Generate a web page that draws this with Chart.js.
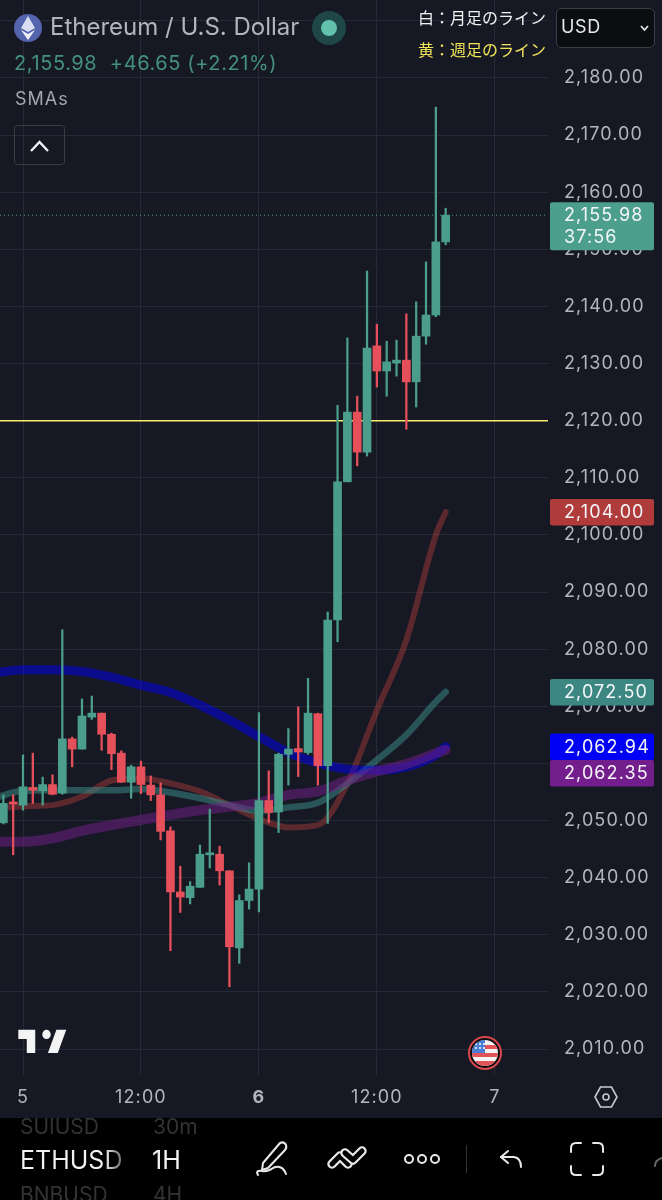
<!DOCTYPE html>
<html>
<head>
<meta charset="utf-8">
<title>ETHUSD 1H</title>
<script src="https://cdn.jsdelivr.net/npm/chart.js@4"></script>
<style>
  html, body { margin: 0; padding: 0; background: #000; }
  #page { position: relative; width: 662px; height: 1200px; overflow: hidden; background: #000; font-family: Inter, "Noto Sans CJK JP", sans-serif; }
  #pane { position: absolute; left: 0; top: 0; width: 662px; height: 1118px; background: #161924; }
  #pane canvas { display: block; }
  .txt { position: absolute; white-space: nowrap; line-height: 1; }
  #overlay { position: absolute; left: 0; top: 0; }
</style>
</head>
<body>
<div id="page">
  <div id="pane"><canvas id="chart" width="662" height="1118"></canvas></div>

  <svg id="overlay" width="662" height="1200" viewBox="0 0 662 1200">
    <!-- eth icon -->
    <circle cx="28" cy="28" r="14" fill="#5565ad"/>
    <path d="M28 16 L35 28 L28 32 L21 28 Z" fill="#d9def2"/>
    <path d="M28 34 L35 30 L28 40 L21 30 Z" fill="#eef0fa"/>
    <!-- market status dot -->
    <circle cx="329" cy="28" r="17" fill="#1f4747"/>
    <circle cx="329" cy="28" r="8" fill="#62c2ab"/>
    <!-- collapse button -->
    <rect x="14.5" y="125.5" width="50" height="39" rx="3" fill="none" stroke="#3a3d47"/>
    <path d="M31 151 L39.5 142 L48 151" fill="none" stroke="#f0f1f4" stroke-width="2.4"/>
    <!-- currency box -->
    <rect x="556.5" y="8.5" width="98" height="39" rx="5" fill="#0c0d11" stroke="#3c3f49"/>
    <path d="M641 26 L644.5 30 L648 26" fill="none" stroke="#e6e7ea" stroke-width="1.8"/>
    <!-- tv logo -->
    <path d="M14 6H2v6h6v9h6V6zm16 15h-7l6-15h7l-6 15zm-8-9a3 3 0 1 0 0-6 3 3 0 0 0 0 6z" fill="#f4f4f4" transform="translate(15.5 1020.5) scale(1.41 1.55)"/>
    <!-- flag -->
    <circle cx="485" cy="1053" r="16" fill="#0b0c10" stroke="#d9484c" stroke-width="2"/>
    <clipPath id="flagClip"><circle cx="485" cy="1053" r="13"/></clipPath>
    <g clip-path="url(#flagClip)">
      <rect x="472" y="1040" width="26" height="26" fill="#f4f4f4"/>
      <rect x="472" y="1045" width="26" height="4" fill="#e0555a"/>
      <rect x="472" y="1053" width="26" height="4" fill="#e0555a"/>
      <rect x="472" y="1061" width="26" height="5" fill="#e0555a"/>
      <rect x="472" y="1040" width="13" height="13" fill="#4a7fd8"/>
      <g fill="#fff">
        <circle cx="476" cy="1044" r="1"/><circle cx="480" cy="1044" r="1"/><circle cx="484" cy="1044" r="1"/>
        <circle cx="476" cy="1048" r="1"/><circle cx="480" cy="1048" r="1"/><circle cx="484" cy="1048" r="1"/>
      </g>
    </g>
    <!-- scale settings -->
    <path d="M595 1097 L600.5 1087 H611.5 L617 1097 L611.5 1107 H600.5 Z" fill="none" stroke="#c8cad0" stroke-width="1.6"/>
    <circle cx="606" cy="1097" r="3" fill="none" stroke="#c8cad0" stroke-width="1.6"/>
    <!-- bottom toolbar -->
    <g fill="none" stroke="#e8e8e8" stroke-width="2" stroke-linecap="round" stroke-linejoin="round">
      <path d="M263 1163 L280 1143 Q284 1141 286 1145 Q287 1148 285 1150 L268 1168 L262 1170 Z"/>
      <path d="M258 1175 Q255 1170 262 1171 Q268 1172 273 1168 Q282 1164 286 1174"/>
      <path d="M332 1164 L340 1156 L348 1164" stroke-width="9.5"/>
      <path d="M332 1164 L340 1156 L348 1164" stroke-width="5" stroke="#000"/>
      <path d="M345 1153 L353 1160 L362 1151" stroke-width="9.5"/>
      <path d="M345 1153 L353 1160 L362 1151" stroke-width="5" stroke="#000"/>
      <circle cx="409" cy="1159" r="4"/><circle cx="422" cy="1159" r="4"/><circle cx="435" cy="1159" r="4"/>
      <path d="M508 1151 L501 1157 L508 1163"/>
      <path d="M501 1157 H514 Q521 1158 521 1167"/>
      <path d="M571 1152 V1148 Q571 1143 576 1143 H581"/>
      <path d="M593 1143 H598 Q603 1143 603 1148 V1152"/>
      <path d="M571 1166 V1170 Q571 1175 576 1175 H581"/>
      <path d="M593 1175 H598 Q603 1175 603 1170 V1166"/>
      <path d="M655 1166 Q655 1160 662 1158" stroke="#666"/>
    </g>
    <line x1="466.5" y1="1145" x2="466.5" y2="1173" stroke="#333"/>
  </svg>

  <div class="txt" style="left:50px;top:15px;font-size:24px;color:#b2b5be;">Ethereum / U.S. Dollar</div>
  <div class="txt" style="left:14px;top:53px;font-size:20px;letter-spacing:0.6px;color:#45907e;">2,155.98&nbsp; +46.65 (+2.21%)</div>
  <div class="txt" style="left:15px;top:90px;font-size:18px;letter-spacing:1px;color:#a3a6af;">SMAs</div>
  <div class="txt" style="left:418px;top:9px;font-size:16px;color:#f2f2f2;font-family:'Noto Sans CJK JP';">白：月足のライン</div>
  <div class="txt" style="left:418px;top:41px;font-size:16px;color:#f0e35a;font-family:'Noto Sans CJK JP';">黄：週足のライン</div>
  <div class="txt" style="left:561px;top:18px;font-size:18px;letter-spacing:0.6px;color:#e6e7ea;">USD</div>

  <div class="txt" style="left:20px;top:1116px;font-size:21px;color:#333;">SUIUSD</div>
  <div class="txt" style="left:153px;top:1116px;font-size:21px;color:#333;">30m</div>
  <div class="txt" style="left:20px;top:1148px;width:105px;overflow:hidden;font-size:25px;background:linear-gradient(90deg,#f2f2f2 80%,#555 100%);-webkit-background-clip:text;background-clip:text;color:transparent;">ETHUSD</div>
  <div class="txt" style="left:152px;top:1148px;font-size:25px;color:#f2f2f2;">1H</div>
  <div class="txt" style="left:20px;top:1184px;font-size:21px;color:#333;">BNBUSD</div>
  <div class="txt" style="left:153px;top:1184px;font-size:21px;color:#333;">4H</div>
</div>

<script>
// hours from the start of the 5th, one candle per hour
const candleHours = [-2,-1,0,1,2,3,4,5,6,7,8,9,10,11,12,13,14,15,16,17,18,19,20,21,22,23,24,25,26,27,28,29,30,31,32,33,34,35,36,37,38,39,40,41,42,43];
const candleOpen  = [2049.6,2053.1,2052.7,2055.8,2055.2,2056.3,2054.8,2064.3,2062.5,2068.1,2068.8,2065.1,2061.8,2056.7,2059.4,2056.2,2054.5,2048.2,2037.5,2036.5,2038.3,2044.0,2044.1,2041.2,2027.7,2036.0,2038.0,2053.5,2051.5,2061.6,2062.6,2061.9,2068.7,2059.6,2085.1,2109.3,2121.5,2114.5,2133.1,2128.7,2130.1,2130.6,2126.8,2134.8,2138.5,2151.3];
const candleHigh  = [2054.5,2054.5,2061.5,2061.8,2057.6,2058.0,2083.4,2064.6,2071.3,2071.8,2068.8,2065.3,2062.2,2059.7,2060.4,2057.8,2056.6,2048.9,2042.0,2039.3,2045.7,2052.0,2045.5,2041.2,2037.0,2042.6,2068.9,2058.7,2061.8,2066.1,2069.9,2074.9,2068.8,2086.5,2122.7,2134.5,2124.3,2146.2,2136.9,2133.9,2134.1,2138.7,2140.8,2147.8,2174.9,2157.2];
const candleLow   = [2049.4,2044.0,2051.8,2053.0,2052.7,2054.5,2054.6,2059.4,2062.5,2067.7,2062.3,2058.9,2056.7,2053.9,2054.7,2053.5,2046.6,2027.2,2033.9,2035.4,2038.3,2041.7,2038.7,2020.9,2025.0,2034.5,2034.0,2049.6,2047.9,2056.2,2057.7,2061.6,2056.2,2049.5,2081.3,2109.3,2112.1,2113.8,2125.9,2124.3,2127.8,2118.5,2122.4,2133.4,2138.2,2150.8];
const candleClose = [2053.0,2052.9,2055.9,2055.3,2056.3,2054.6,2064.3,2062.5,2068.3,2068.8,2065.1,2061.7,2056.7,2059.4,2056.3,2054.5,2048.1,2037.5,2036.6,2038.5,2044.1,2044.1,2041.2,2027.9,2036.0,2038.0,2053.5,2051.4,2061.6,2062.5,2062.0,2068.8,2059.6,2085.1,2109.3,2121.5,2114.5,2132.7,2128.7,2130.3,2130.6,2126.8,2134.8,2138.5,2151.3,2155.98];

// moving averages
const smaHours = [-3,0,3,6,9,12,15,18,21,24,27,30,33,36,39,42,43];
const smaBlue   = [2075.8,2076.4,2076.4,2076.1,2075.1,2073.7,2072.4,2070.2,2067.6,2064.7,2061.9,2060.1,2059.0,2058.8,2059.4,2061.5,2062.94];
const smaPurple = [2046.3,2046.3,2046.9,2048.2,2049.2,2050.1,2051.0,2051.8,2052.4,2053.1,2054.5,2055.1,2057.0,2058.6,2059.9,2061.8,2062.35];
const smaTeal   = [2053.9,2055.2,2055.3,2055.3,2055.3,2055.5,2054.9,2053.9,2052.7,2051.7,2052.3,2053.1,2056.5,2060.6,2065.0,2070.8,2072.5];
const smaRed    = [2052.1,2052.5,2052.7,2054.2,2057.0,2057.4,2056.5,2055.1,2052.7,2050.3,2048.8,2049.2,2056.5,2069.3,2081.6,2100.0,2104.0];

const priceTicks = [2010,2020,2030,2040,2050,2060,2070,2080,2090,2100,2110,2120,2130,2140,2150,2160,2170,2180,2190];
const timeTicks  = [0,12,24,36,48];
const timeLabels = ['5','12:00','6','12:00','7'];

const weeklyLevel = 2120;
const lastPrice = 2155.98;
const countdown = '37:56';
const tagValues = [2155.98,2104.00,2072.50,2062.94,2062.35];
const tagColors = ['#4c9f8c','#b03b3b','#3d8783','#0000f5','#741d8c'];

const GREEN = '#4b9e8b';
const RED = '#e5505a';
const FONT = 'Inter';
const X_MIN = -2.34, X_MAX = 53.41;

const fmt = v => v.toLocaleString('en-US', { minimumFractionDigits: 2, maximumFractionDigits: 2 });
const candleColors = candleClose.map((c, i) => c >= candleOpen[i] ? GREEN : RED);

const smaDataset = (values, color, width, order) => ({
  type: 'line',
  data: values.map((y, i) => ({ x: smaHours[i], y })),
  borderColor: color,
  borderWidth: width,
  borderCapStyle: 'round',
  borderJoinStyle: 'round',
  cubicInterpolationMode: 'monotone',
  pointRadius: 0,
  order
});

// price tags sit on top of the axis, pushed down when they would overlap
const priceTags = {
  id: 'priceTags',
  beforeDraw(chart) {
    chart.ctx.letterSpacing = '1.1px';
  },
  afterDraw(chart) {
    const { ctx, scales: { y } } = chart;
    ctx.save();
    ctx.font = '18px ' + FONT;
    ctx.textBaseline = 'middle';
    ctx.textAlign = 'left';
    let prevBottom = -Infinity;
    tagValues.forEach((v, i) => {
      const h = i === 0 ? 48 : 26.5;
      const top = Math.max(y.getPixelForValue(v) - 13, prevBottom);
      ctx.fillStyle = tagColors[i];
      ctx.beginPath();
      ctx.roundRect(550, top, 104, h, 2);
      ctx.fill();
      ctx.fillStyle = '#f4f5f7';
      ctx.fillText(fmt(v), 564, top + 13.5);
      if (i === 0) ctx.fillText(countdown, 564, top + 35);
      prevBottom = top + h;
    });
    ctx.restore();
  }
};

new Chart(document.getElementById('chart'), {
  type: 'bar',
  data: {
    datasets: [
      {
        data: candleHours.map((x, i) => ({ x, y: [candleOpen[i], candleClose[i]] })),
        backgroundColor: candleColors,
        barThickness: 8,
        minBarLength: 2,
        grouped: false,
        order: 0
      },
      {
        data: candleHours.map((x, i) => ({ x, y: [candleLow[i], candleHigh[i]] })),
        backgroundColor: candleColors,
        barThickness: 1.6,
        grouped: false,
        order: 1
      },
      smaDataset(smaPurple, 'rgba(116,29,140,0.5)', 10, 2),
      smaDataset(smaBlue, 'rgba(0,0,245,0.5)', 9, 3),
      smaDataset(smaTeal, 'rgba(61,135,131,0.55)', 6.5, 4),
      smaDataset(smaRed, 'rgba(176,59,59,0.45)', 6, 5),
      {
        type: 'line',
        data: [{ x: X_MIN, y: weeklyLevel }, { x: X_MAX, y: weeklyLevel }],
        borderColor: '#f7ec6b',
        borderWidth: 1.5,
        pointRadius: 0,
        order: 6
      },
      {
        type: 'line',
        data: [{ x: X_MIN, y: lastPrice }, { x: X_MAX, y: lastPrice }],
        borderColor: '#4c9f8c',
        borderWidth: 1,
        borderDash: [1, 3],
        pointRadius: 0,
        order: 7
      }
    ]
  },
  options: {
    responsive: false,
    animation: false,
    devicePixelRatio: 1,
    layout: { padding: 0 },
    plugins: { legend: { display: false }, tooltip: { enabled: false } },
    scales: {
      x: {
        type: 'linear',
        offset: false,
        min: X_MIN,
        max: X_MAX,
        afterBuildTicks: s => { s.ticks = timeTicks.map(value => ({ value })); },
        afterFit: s => { s.height = 43; s.paddingLeft = 0; s.paddingRight = 0; },
        border: { display: false },
        grid: { offset: false, color: '#262a36', lineWidth: 1, drawTicks: false },
        ticks: {
          autoSkip: false,
          maxRotation: 0,
          padding: 12,
          color: '#b2b5be',
          font: c => ({ family: FONT, size: 18, weight: c.tick && c.tick.value === 24 ? 'bold' : 'normal' }),
          callback: v => timeLabels[timeTicks.indexOf(v)]
        }
      },
      y: {
        position: 'right',
        min: 2005.45,
        max: 2193.65,
        afterBuildTicks: s => { s.ticks = priceTicks.map(value => ({ value })); },
        afterFit: s => { s.width = 114; s.paddingTop = 0; s.paddingBottom = 0; },
        border: { display: false },
        grid: { color: '#262a36', lineWidth: 1, drawTicks: false },
        ticks: {
          autoSkip: false,
          padding: 16,
          color: '#b2b5be',
          font: { family: FONT, size: 18 },
          callback: v => fmt(v)
        }
      }
    }
  },
  plugins: [priceTags]
});
</script>
</body>
</html>
